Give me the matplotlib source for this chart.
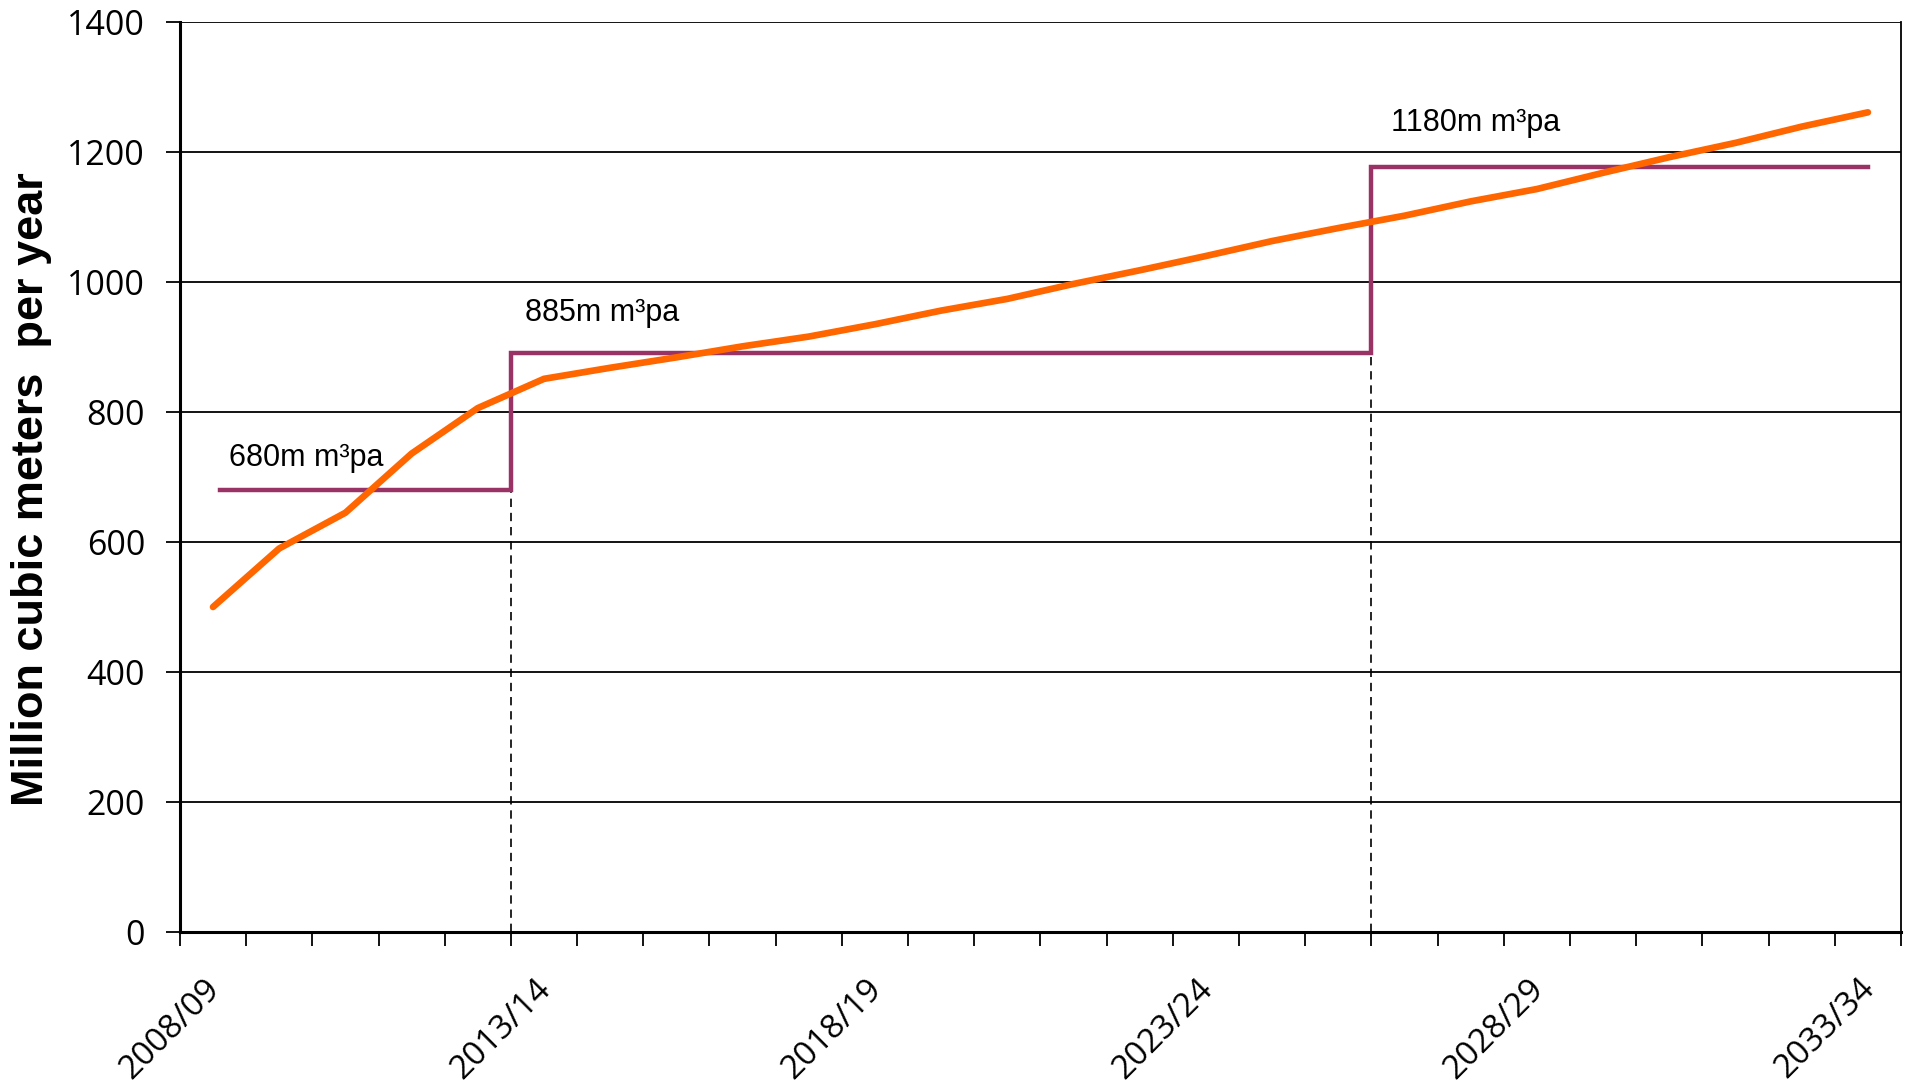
import matplotlib
matplotlib.use("Agg")
import matplotlib.pyplot as plt
import numpy as np

# ---- data ----
years = ["2008/09", "2009/10", "2010/11", "2011/12", "2012/13", "2013/14", "2014/15",
         "2015/16", "2016/17", "2017/18", "2018/19", "2019/20", "2020/21", "2021/22",
         "2022/23", "2023/24", "2024/25", "2025/26", "2026/27", "2027/28", "2028/29",
         "2029/30", "2030/31", "2031/32", "2032/33", "2033/34"]
demand = [500, 590, 645, 736, 806, 851, 868, 884, 901, 916, 935, 956, 974, 997,
          1018, 1040, 1063, 1083, 1102, 1124, 1143, 1168, 1192, 1214, 1239, 1261]
capacity_levels = [680, 890, 1177]
capacity_labels = ["680m m³pa", "885m m³pa", "1180m m³pa"]
capacity_start_year = ["2013/14", "2026/27"]   # capacity steps occur before these years
label_years = ["2008/09", "2013/14", "2018/19", "2023/24", "2028/29", "2033/34"]
yticks = [0, 200, 400, 600, 800, 1000, 1200, 1400]

# ---- figure ----
fig = plt.figure(figsize=(19.10, 10.88), dpi=100)
ax = fig.add_axes([0.0942, 0.1434, 0.9011, 0.8364])

n = len(years)
xs = np.arange(n)

# step line for capacity
i1 = years.index(capacity_start_year[0]) - 0.5
i2 = years.index(capacity_start_year[1]) - 0.5
step_x = [0.1, i1, i1, i2, i2, n - 1]
step_y = [capacity_levels[0], capacity_levels[0], capacity_levels[1],
          capacity_levels[1], capacity_levels[2], capacity_levels[2]]

ax.plot(step_x, step_y, color="#993366", lw=3.2, zorder=3, solid_joinstyle="miter")
ax.plot(xs, demand, color="#FF6600", lw=4.8, zorder=4, solid_capstyle="round",
        solid_joinstyle="round")

# dashed guide lines
ax.plot([i1, i1], [0, capacity_levels[0]], color="black", lw=1.2, ls=(0, (5, 3.5)), zorder=2)
ax.plot([i2, i2], [0, capacity_levels[1]], color="black", lw=1.2, ls=(0, (5, 3.5)), zorder=2)

# annotations
ann_fs = 22
ax.text(0.24, 729, capacity_labels[0], fontsize=ann_fs, family="Liberation Sans",
        va="center", ha="left")
ax.text(4.72, 952, capacity_labels[1], fontsize=ann_fs, family="Liberation Sans",
        va="center", ha="left")
ax.text(17.79, 1244, capacity_labels[2], fontsize=ann_fs, family="Liberation Sans",
        va="center", ha="left")

# axes styling
ax.set_xlim(-0.5, n - 0.5)
ax.set_ylim(0, 1400)
ax.set_yticks(yticks)
ax.set_yticklabels([str(v) for v in yticks], fontsize=24.5, family="Open Sans")
ax.yaxis.grid(True, color="black", lw=1.3)
ax.set_axisbelow(True)

ax.set_xticks([years.index(y) - 0.15 for y in label_years])
ax.set_xticklabels(label_years, fontsize=24, family="Open Sans", rotation=45,
                   ha="right", rotation_mode="anchor", va="top")
ax.set_xticks(np.arange(-0.5, n, 1.0), minor=True)
ax.tick_params(axis="x", which="major", length=0, pad=29)
ax.tick_params(axis="x", which="minor", length=10, width=1.3, direction="out")
ax.tick_params(axis="y", length=10, width=1.3, direction="out", pad=15)

for s in ["left", "bottom"]:
    ax.spines[s].set_linewidth(2.2)
ax.spines["top"].set_visible(False)
ax.spines["right"].set_linewidth(1.3)

ax.set_ylabel("Million cubic meters  per year", fontsize=32.5, fontweight="bold",
              family="Liberation Sans")
ax.yaxis.set_label_coords(-0.0745, 0.487)

fig.savefig("out.png", dpi=100, facecolor="white")
